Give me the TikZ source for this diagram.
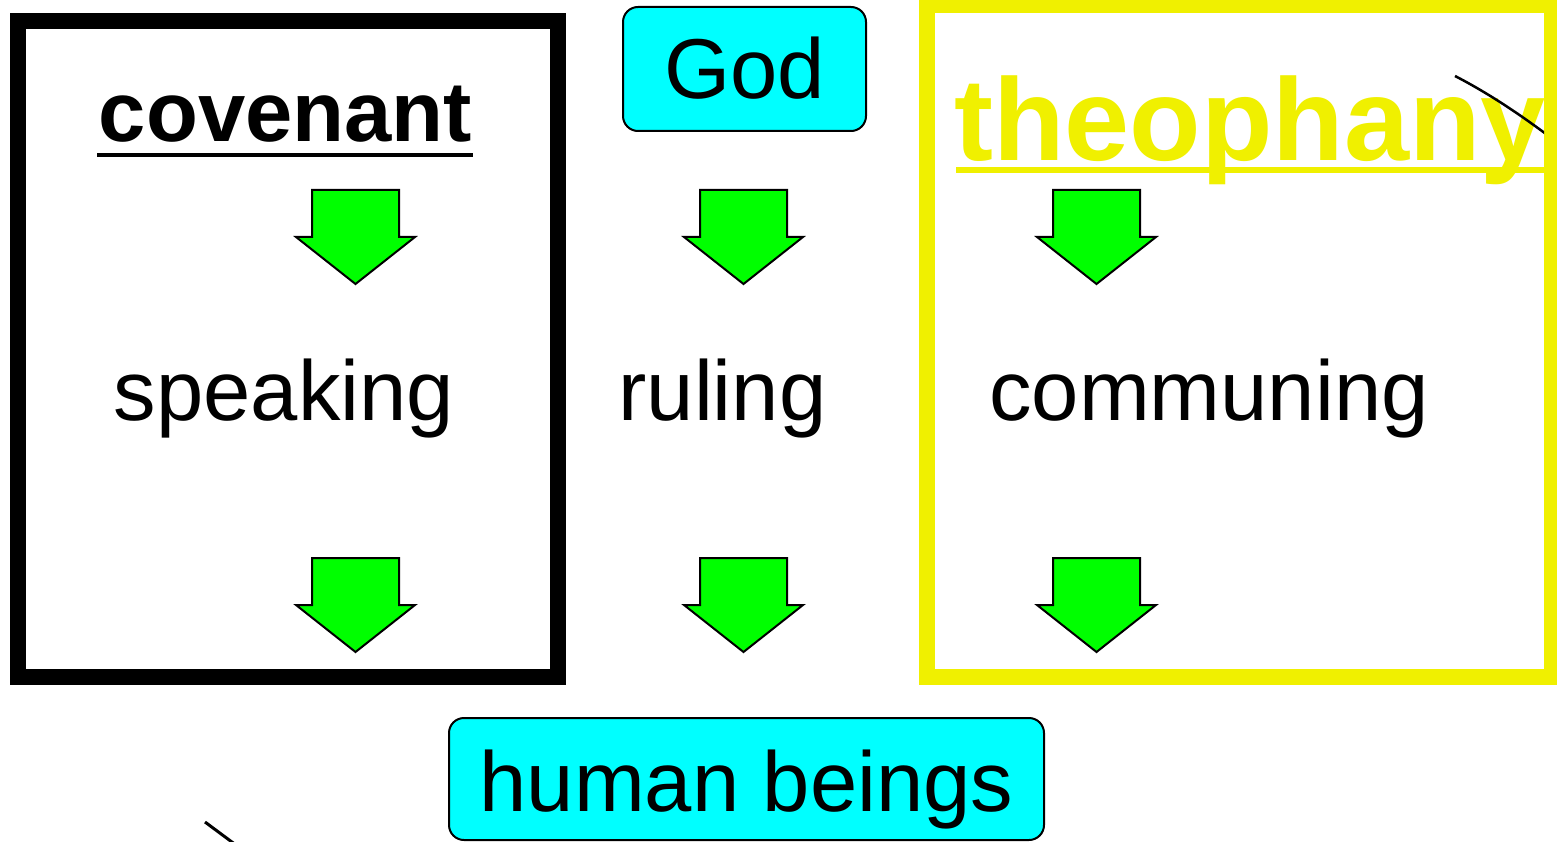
\documentclass[tikz,border=0pt]{standalone}
\usepackage{fontspec}
\setmainfont{Liberation Sans}
\definecolor{boxcyan}{RGB}{0,255,255}
\definecolor{arrowgreen}{RGB}{0,255,0}
\definecolor{framyellow}{RGB}{240,240,0}
\tikzset{
  plaintext/.style={inner sep=0pt, font=\fontsize{85}{100}\selectfont},
  boldtext/.style={inner sep=0pt, font=\fontsize{85}{100}\selectfont\bfseries},
  cyanbox/.style={draw=black, line width=2pt, fill=boxcyan, rounded corners=15pt, inner sep=0pt, font=\fontsize{85}{100}\selectfont},
  arrowfill/.style={fill=arrowgreen, draw=black, line width=2pt, line join=miter},
  downarrow/.pic={
    \draw[arrowfill] (-43.5,0) -- (43.5,0) -- (43.5,47) -- (59.5,47) -- (0,94) -- (-59.5,47) -- (-43.5,47) -- cycle;
  }
}
\begin{document}
\begin{tikzpicture}[x=1pt,y=-1pt]
\useasboundingbox (0,0) rectangle (1557,842);
\fill[white] (0,0) rectangle (1557,842);

% frames
\draw[line width=16pt] (18,21) rectangle (558,677);
\draw[framyellow, line width=16pt] (927,5) rectangle (1552,677);

% God and human beings
\node[cyanbox, minimum width=243pt, minimum height=124pt, text height=60pt, text depth=0pt] (god) at (744.5,69) {God};
\node[cyanbox, minimum width=595pt, minimum height=122pt, text height=64pt, text depth=0pt] (human) at (746.5,779) {human beings};

% headings
\node[boldtext, anchor=base] (covenant) at (285.5,142) {covenant};
\fill (97,153) rectangle (473,157);

\begin{scope}
  \clip (935,13) rectangle (1544,669);
  \node[inner sep=0pt, font=\fontsize{117}{130}\selectfont\bfseries, text=framyellow, anchor=base west] (theophany) at (954,161) {theophany};
  \fill[framyellow] (956,167) rectangle (1550,173);
  \draw[line width=2.5pt] (1455,76) .. controls (1484,91) and (1514,110) .. (1550,137);
\end{scope}

% middle words
\node[plaintext, anchor=base] (speaking) at (284,420) {speaking};
\node[plaintext, anchor=base] (ruling) at (722.5,420) {ruling};
\node[plaintext, anchor=base] (communing) at (1209,420) {communing};

% arrows
\pic at (355.5,190) {downarrow};
\pic at (743.5,190) {downarrow};
\pic at (1096.5,190) {downarrow};
\pic at (355.5,558) {downarrow};
\pic at (743.5,558) {downarrow};
\pic at (1096.5,558) {downarrow};

% stray stroke bottom left
\draw[line width=3pt] (205,822) -- (240,848);
\end{tikzpicture}
\end{document}
